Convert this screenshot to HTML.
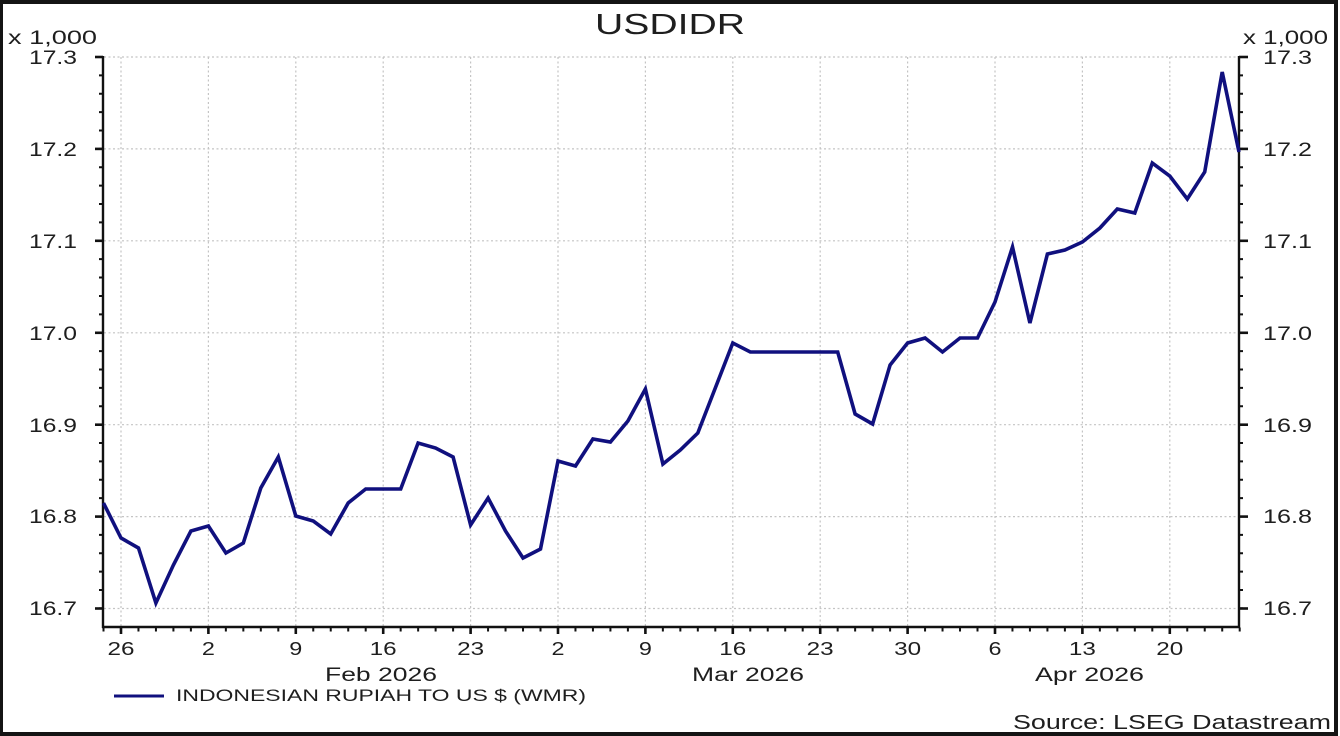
<!DOCTYPE html>
<html>
<head>
<meta charset="utf-8">
<style>
  html, body { margin: 0; padding: 0; background: #fff; }
  svg { display: block; }
  text { font-family: "Liberation Sans", Arial, sans-serif; fill: #1e1e1e; }
</style>
</head>
<body>
<svg width="1340" height="736" viewBox="0 0 1340 736" xmlns="http://www.w3.org/2000/svg">
  <rect x="0" y="0" width="1340" height="736" fill="#fff"/>
  <!-- outer frame -->
  <path d="M0,0 H1338 V736 H0 Z M3,4 V732 H1334 V4 Z" fill="#141414" fill-rule="evenodd"/>

  <!-- title -->
  <text x="595" y="34" font-size="29" textLength="150" lengthAdjust="spacingAndGlyphs">USDIDR</text>

  <!-- units -->
  <text x="8" y="44" font-size="19" textLength="89" lengthAdjust="spacingAndGlyphs">x 1,000</text>
  <text x="1243" y="44" font-size="19" textLength="85" lengthAdjust="spacingAndGlyphs">x 1,000</text>

  <!-- horizontal gridlines -->
  <g stroke="#c4c4c4" stroke-width="1.2" stroke-dasharray="2,2.5">
    <line x1="104" y1="57" x2="1238" y2="57"/>
    <line x1="104" y1="148.9" x2="1238" y2="148.9"/>
    <line x1="104" y1="240.8" x2="1238" y2="240.8"/>
    <line x1="104" y1="332.8" x2="1238" y2="332.8"/>
    <line x1="104" y1="424.7" x2="1238" y2="424.7"/>
    <line x1="104" y1="516.6" x2="1238" y2="516.6"/>
    <line x1="104" y1="608.5" x2="1238" y2="608.5"/>
  </g>
  <!-- vertical gridlines -->
  <g stroke="#c4c4c4" stroke-width="1.2" stroke-dasharray="2,2.5">
    <line x1="121" y1="57" x2="121" y2="626"/>
    <line x1="208.4" y1="57" x2="208.4" y2="626"/>
    <line x1="295.8" y1="57" x2="295.8" y2="626"/>
    <line x1="383.2" y1="57" x2="383.2" y2="626"/>
    <line x1="470.6" y1="57" x2="470.6" y2="626"/>
    <line x1="558" y1="57" x2="558" y2="626"/>
    <line x1="645.4" y1="57" x2="645.4" y2="626"/>
    <line x1="732.8" y1="57" x2="732.8" y2="626"/>
    <line x1="820.2" y1="57" x2="820.2" y2="626"/>
    <line x1="907.6" y1="57" x2="907.6" y2="626"/>
    <line x1="995" y1="57" x2="995" y2="626"/>
    <line x1="1082.4" y1="57" x2="1082.4" y2="626"/>
    <line x1="1169.8" y1="57" x2="1169.8" y2="626"/>
  </g>

  <!-- axes -->
  <g stroke="#111" stroke-width="2.4" fill="none">
    <line x1="103" y1="56" x2="103" y2="628"/>
    <line x1="1239" y1="56" x2="1239" y2="628"/>
    <line x1="102" y1="627" x2="1240" y2="627"/>
  </g>

  <!-- left minor ticks -->
  <line x1="101" y1="56" x2="101" y2="611" stroke="#111" stroke-width="4" stroke-dasharray="2 16.38"/>
  <!-- right minor ticks -->
  <line x1="1241" y1="56" x2="1241" y2="611" stroke="#111" stroke-width="4" stroke-dasharray="2 16.38"/>
  <!-- major y ticks -->
  <g stroke="#111" stroke-width="2.6">
    <line x1="95" y1="57" x2="103" y2="57"/>
    <line x1="95" y1="148.9" x2="103" y2="148.9"/>
    <line x1="95" y1="240.8" x2="103" y2="240.8"/>
    <line x1="95" y1="332.8" x2="103" y2="332.8"/>
    <line x1="95" y1="424.7" x2="103" y2="424.7"/>
    <line x1="95" y1="516.6" x2="103" y2="516.6"/>
    <line x1="95" y1="608.5" x2="103" y2="608.5"/>
    <line x1="1239" y1="57" x2="1248" y2="57"/>
    <line x1="1239" y1="148.9" x2="1248" y2="148.9"/>
    <line x1="1239" y1="240.8" x2="1248" y2="240.8"/>
    <line x1="1239" y1="332.8" x2="1248" y2="332.8"/>
    <line x1="1239" y1="424.7" x2="1248" y2="424.7"/>
    <line x1="1239" y1="516.6" x2="1248" y2="516.6"/>
    <line x1="1239" y1="608.5" x2="1248" y2="608.5"/>
  </g>

  <!-- bottom minor ticks (every business day) -->
  <line x1="102.5" y1="629.5" x2="1241" y2="629.5" stroke="#111" stroke-width="4" stroke-dasharray="2 15.48"/>
  <!-- bottom major ticks (Mondays) -->
  <g stroke="#111" stroke-width="2.6">
    <line x1="121" y1="627" x2="121" y2="634"/>
    <line x1="208.4" y1="627" x2="208.4" y2="634"/>
    <line x1="295.8" y1="627" x2="295.8" y2="634"/>
    <line x1="383.2" y1="627" x2="383.2" y2="634"/>
    <line x1="470.6" y1="627" x2="470.6" y2="634"/>
    <line x1="558" y1="627" x2="558" y2="634"/>
    <line x1="645.4" y1="627" x2="645.4" y2="634"/>
    <line x1="732.8" y1="627" x2="732.8" y2="634"/>
    <line x1="820.2" y1="627" x2="820.2" y2="634"/>
    <line x1="907.6" y1="627" x2="907.6" y2="634"/>
    <line x1="995" y1="627" x2="995" y2="634"/>
    <line x1="1082.4" y1="627" x2="1082.4" y2="634"/>
    <line x1="1169.8" y1="627" x2="1169.8" y2="634"/>
  </g>

  <!-- y labels left -->
  <g font-size="19">
    <text x="29" y="64" textLength="48" lengthAdjust="spacingAndGlyphs">17.3</text>
    <text x="29" y="156" textLength="48" lengthAdjust="spacingAndGlyphs">17.2</text>
    <text x="29" y="248" textLength="48" lengthAdjust="spacingAndGlyphs">17.1</text>
    <text x="29" y="340" textLength="48" lengthAdjust="spacingAndGlyphs">17.0</text>
    <text x="29" y="432" textLength="48" lengthAdjust="spacingAndGlyphs">16.9</text>
    <text x="29" y="523" textLength="48" lengthAdjust="spacingAndGlyphs">16.8</text>
    <text x="29" y="615" textLength="48" lengthAdjust="spacingAndGlyphs">16.7</text>
  </g>
  <!-- y labels right -->
  <g font-size="19">
    <text x="1263" y="64" textLength="49" lengthAdjust="spacingAndGlyphs">17.3</text>
    <text x="1263" y="156" textLength="49" lengthAdjust="spacingAndGlyphs">17.2</text>
    <text x="1263" y="248" textLength="49" lengthAdjust="spacingAndGlyphs">17.1</text>
    <text x="1263" y="340" textLength="49" lengthAdjust="spacingAndGlyphs">17.0</text>
    <text x="1263" y="432" textLength="49" lengthAdjust="spacingAndGlyphs">16.9</text>
    <text x="1263" y="523" textLength="49" lengthAdjust="spacingAndGlyphs">16.8</text>
    <text x="1263" y="615" textLength="49" lengthAdjust="spacingAndGlyphs">16.7</text>
  </g>

  <!-- x labels -->
  <g font-size="18" text-anchor="middle">
    <text x="121" y="655" textLength="27" lengthAdjust="spacingAndGlyphs">26</text>
    <text x="208.4" y="655" textLength="13" lengthAdjust="spacingAndGlyphs">2</text>
    <text x="295.8" y="655" textLength="13" lengthAdjust="spacingAndGlyphs">9</text>
    <text x="383.2" y="655" textLength="27" lengthAdjust="spacingAndGlyphs">16</text>
    <text x="470.6" y="655" textLength="27" lengthAdjust="spacingAndGlyphs">23</text>
    <text x="558" y="655" textLength="13" lengthAdjust="spacingAndGlyphs">2</text>
    <text x="645.4" y="655" textLength="13" lengthAdjust="spacingAndGlyphs">9</text>
    <text x="732.8" y="655" textLength="27" lengthAdjust="spacingAndGlyphs">16</text>
    <text x="820.2" y="655" textLength="27" lengthAdjust="spacingAndGlyphs">23</text>
    <text x="907.6" y="655" textLength="27" lengthAdjust="spacingAndGlyphs">30</text>
    <text x="995" y="655" textLength="13" lengthAdjust="spacingAndGlyphs">6</text>
    <text x="1082.4" y="655" textLength="27" lengthAdjust="spacingAndGlyphs">13</text>
    <text x="1169.8" y="655" textLength="27" lengthAdjust="spacingAndGlyphs">20</text>
  </g>
  <g font-size="19">
    <text x="325" y="681" textLength="112" lengthAdjust="spacingAndGlyphs">Feb 2026</text>
    <text x="692" y="681" textLength="112" lengthAdjust="spacingAndGlyphs">Mar 2026</text>
    <text x="1035" y="681" textLength="109" lengthAdjust="spacingAndGlyphs">Apr 2026</text>
  </g>

  <!-- data series -->
  <polyline fill="none" stroke="#10107e" stroke-width="3.6" stroke-linejoin="miter" stroke-miterlimit="4"
    points="103.5,503 121,538 138.5,548 155.9,603 173.4,565 190.9,531 208.4,526 225.9,553 243.3,543 260.8,488 278.3,457 295.8,516 313.3,521 330.7,534 348.2,503 365.7,489 383.2,489 400.7,489 418.1,443 435.6,448 453.1,457 470.6,525 488.1,498 505.5,531 523,558 540.5,549 558,461 575.5,466 592.9,439 610.4,442 627.9,421 645.4,389 662.9,464 680.3,450 697.8,433 715.3,388 732.8,343 750.3,352 767.7,352 785.2,352 802.7,352 820.2,352 837.7,352 855.1,414 872.6,424 890.1,365 907.6,343 925.1,338 942.5,352 960,338 977.5,338 995,302 1012.5,247 1029.9,323 1047.4,254 1064.9,250 1082.4,242 1099.9,228 1117.3,209 1134.8,213 1152.3,163 1169.8,176 1187.3,199 1204.7,172 1222.2,72 1239,152"/>

  <!-- legend -->
  <line x1="114" y1="696" x2="164" y2="696" stroke="#10107e" stroke-width="3"/>
  <text x="176" y="701" font-size="17" textLength="410" lengthAdjust="spacingAndGlyphs">INDONESIAN RUPIAH TO US $ (WMR)</text>

  <!-- source -->
  <text x="1013" y="729" font-size="20" textLength="318" lengthAdjust="spacingAndGlyphs">Source: LSEG Datastream</text>
</svg>
</body>
</html>
